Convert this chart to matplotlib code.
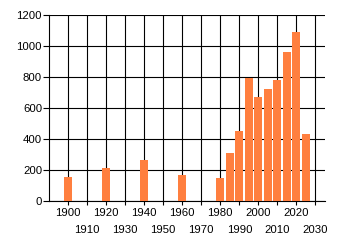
import matplotlib.pyplot as plt

# Données
annees = [1900, 1920, 1940, 1960, 1980, 1985, 1990, 1995, 2000, 2005, 2010, 2015, 2020, 2025]
valeurs = [155, 213, 264, 168, 148, 310, 452, 796, 671, 723, 781, 961, 1090, 432]
ticks_pairs = [1900, 1920, 1940, 1960, 1980, 2000, 2020]
ticks_impairs = [1910, 1930, 1950, 1970, 1990, 2010, 2030]
ticks_y = [0, 200, 400, 600, 800, 1000, 1200]

plt.rcParams['font.family'] = 'Liberation Sans'
plt.rcParams['font.size'] = 8.2

fig = plt.figure(figsize=(3.4, 2.45), dpi=100)
ax = fig.add_axes([49 / 340, 44 / 245, 276 / 340, 186 / 245])

ax.bar(annees, valeurs, width=4.2, color='#ff7f3f', zorder=3)

ax.set_xlim(1890, 2035)
ax.set_ylim(0, 1200)
ax.set_yticks(ticks_y)
ax.set_xticks(ticks_pairs)
ax.set_xticks(ticks_impairs, minor=True)
ax.set_xticklabels([str(a) for a in ticks_pairs])
ax.set_xticklabels([str(a) for a in ticks_impairs], minor=True)

ax.tick_params(axis='x', which='major', length=3, width=0.8, pad=2)
ax.tick_params(axis='x', which='minor', length=3, width=0.8, pad=14)
ax.tick_params(axis='y', length=4, width=0.8, pad=1)

ax.grid(True, which='both', color='black', linewidth=0.8, zorder=0)
ax.set_axisbelow(True)

for s in ['top', 'right']:
    ax.spines[s].set_visible(False)
for s in ['left', 'bottom']:
    ax.spines[s].set_linewidth(0.8)

plt.savefig('out.png', dpi=100)
